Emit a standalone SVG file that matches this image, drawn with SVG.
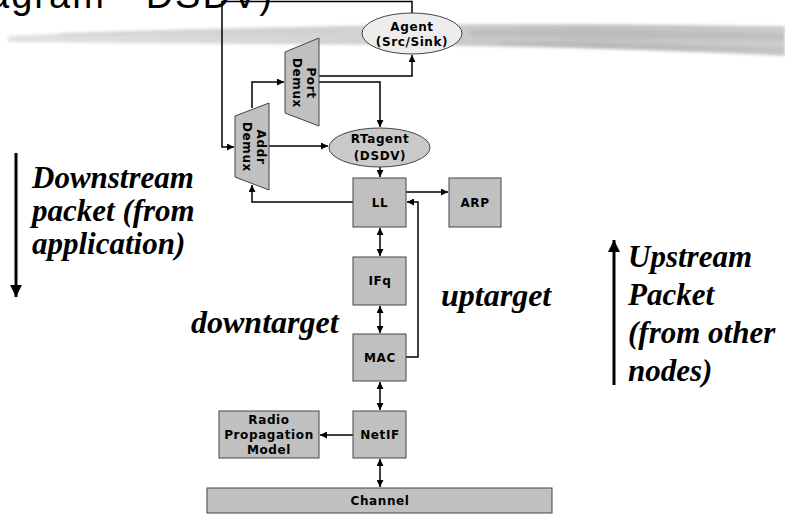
<svg xmlns="http://www.w3.org/2000/svg" width="785" height="515" viewBox="0 0 785 515">
  <defs>
    <style>
      .box { fill: #c0c0c0; stroke: #444; stroke-width: 1; }
      .ell { stroke: #444; stroke-width: 1; }
      .lbl { font-family: "DejaVu Sans", Verdana, sans-serif; font-weight: bold; font-size: 12px; letter-spacing: 0.6px; text-anchor: middle; fill: #000; }
      .conn { fill: none; stroke: #000; stroke-width: 1.5; }
      .note { font-family: "Liberation Serif", "Times New Roman", serif; font-style: italic; font-weight: bold; fill: #000; }
      .title { font-family: "Liberation Sans", Arial, sans-serif; font-size: 38px; fill: #000; }
    </style>
    <marker id="ah" viewBox="0 0 8 8" refX="8" refY="4" markerWidth="7" markerHeight="7" markerUnits="userSpaceOnUse" orient="auto-start-reverse">
      <path d="M0,0 L8,4 L0,8 Z" fill="#000"/>
    </marker>
    <marker id="bigah" viewBox="0 0 10 10" refX="10" refY="5" markerWidth="12" markerHeight="12" markerUnits="userSpaceOnUse" orient="auto">
      <path d="M0,0 L10,5 L0,10 Z" fill="#000"/>
    </marker>
    <linearGradient id="band" x1="0" y1="0" x2="1" y2="0">
      <stop offset="0" stop-color="#e2e2e2"/>
      <stop offset="0.45" stop-color="#d2d2d2"/>
      <stop offset="0.75" stop-color="#c0c0c0"/>
      <stop offset="1" stop-color="#cccccc"/>
    </linearGradient>
    <filter id="soft" x="-5%" y="-50%" width="110%" height="200%">
      <feGaussianBlur stdDeviation="1.6"/>
    </filter>
  </defs>

  <rect width="785" height="515" fill="#fff"/>

  <!-- heading fragment and brush-stroke rule -->
  <text class="title" x="-12" y="8" textLength="284" lengthAdjust="spacing">agram - DSDV)</text>
  <g id="brush" filter="url(#soft)">
    <path d="M8,36 C120,30 260,27 400,25 C540,23 690,25 785,26 L785,56 C660,50 520,46 400,45 C260,44 120,43 8,42 Z" fill="url(#band)"/>
    <path d="M470,30 C580,30 690,31 785,33 L785,40 C690,37 580,36 470,36 Z" fill="#b4b4b4" opacity="0.5"/>
    <path d="M500,42 C600,43 700,46 785,49 L785,52 C700,50 600,47 500,45 Z" fill="#acacac" opacity="0.45"/>
    <path d="M60,33 C160,31 260,30 340,30 L340,33 C260,33 160,34 60,36 Z" fill="#c8c8c8" opacity="0.5"/>
  </g>

  <!-- connectors -->
  <g id="connectors">
    <path class="conn" d="M412,13 V1.5 H222 V147 H234" marker-end="url(#ah)"/>
    <path class="conn" d="M252,108 V82 H284" marker-end="url(#ah)"/>
    <path class="conn" d="M319,76 H412 V55" marker-end="url(#ah)"/>
    <path class="conn" d="M319,82 H380 V127" marker-end="url(#ah)"/>
    <path class="conn" d="M269,146 H328" marker-end="url(#ah)"/>
    <path class="conn" d="M380,167 V177" marker-end="url(#ah)"/>
    <path class="conn" d="M406,192 H448" marker-end="url(#ah)"/>
    <path class="conn" d="M406,357 H418 V202 H407" marker-end="url(#ah)"/>
    <path class="conn" d="M353,202 H252 V185" marker-end="url(#ah)"/>
    <path class="conn" d="M380,228 V256" marker-start="url(#ah)" marker-end="url(#ah)"/>
    <path class="conn" d="M380,306 V333" marker-start="url(#ah)" marker-end="url(#ah)"/>
    <path class="conn" d="M380,382 V410" marker-start="url(#ah)" marker-end="url(#ah)"/>
    <path class="conn" d="M353,435 H320" marker-end="url(#ah)"/>
    <path class="conn" d="M380,459 V487" marker-start="url(#ah)" marker-end="url(#ah)"/>
  </g>

  <!-- protocol stack nodes -->
  <g id="agent">
    <ellipse class="ell" cx="412" cy="33.5" rx="50" ry="20.5" fill="#ededed"/>
    <text class="lbl" x="412" y="31">Agent</text>
    <text class="lbl" x="412" y="46">(Src/Sink)</text>
  </g>
  <g id="port-demux">
    <polygon class="box" points="285,52 319,38 319,126 285,113"/>
    <text class="lbl" transform="translate(307,83) rotate(90)" y="0">Port</text>
    <text class="lbl" transform="translate(293,83) rotate(90)" y="0">Demux</text>
  </g>
  <g id="addr-demux">
    <polygon class="box" points="235,116 269,103 269,190 235,177"/>
    <text class="lbl" transform="translate(257,147) rotate(90)" y="0">Addr</text>
    <text class="lbl" transform="translate(243,147) rotate(90)" y="0">Demux</text>
  </g>
  <g id="rtagent">
    <ellipse class="ell" cx="379.5" cy="147.5" rx="50.5" ry="19.5" fill="#cacaca"/>
    <text class="lbl" x="380" y="143">RTagent</text>
    <text class="lbl" x="380" y="160">(DSDV)</text>
  </g>
  <g id="ll">
    <rect class="box" x="353" y="178" width="53" height="49"/>
    <text class="lbl" x="380" y="207">LL</text>
  </g>
  <g id="arp">
    <rect class="box" x="449" y="178" width="52" height="49"/>
    <text class="lbl" x="475" y="207">ARP</text>
  </g>
  <g id="ifq">
    <rect class="box" x="353" y="257" width="53" height="48"/>
    <text class="lbl" x="380" y="285">IFq</text>
  </g>
  <g id="mac">
    <rect class="box" x="353" y="334" width="53" height="47"/>
    <text class="lbl" x="380" y="362">MAC</text>
  </g>
  <g id="netif">
    <rect class="box" x="353" y="411" width="53" height="47"/>
    <text class="lbl" x="380" y="439">NetIF</text>
  </g>
  <g id="radio-propagation-model">
    <rect class="box" x="219" y="411" width="100" height="47"/>
    <text class="lbl" x="269" y="424">Radio</text>
    <text class="lbl" x="269" y="439">Propagation</text>
    <text class="lbl" x="269" y="454">Model</text>
  </g>
  <g id="channel">
    <rect class="box" x="207" y="488" width="345" height="25"/>
    <text class="lbl" x="380" y="505">Channel</text>
  </g>

  <!-- flow direction notes -->
  <g id="downstream-note">
    <path d="M16,153 V297" stroke="#000" stroke-width="3" fill="none" marker-end="url(#bigah)"/>
    <text class="note" font-size="31" x="32" y="188">Downstream</text>
    <text class="note" font-size="31" x="32" y="221">packet (from</text>
    <text class="note" font-size="31" x="32" y="254">application)</text>
  </g>
  <g id="upstream-note">
    <path d="M614,385 V240" stroke="#000" stroke-width="3" fill="none" marker-end="url(#bigah)"/>
    <text class="note" font-size="31" x="628" y="267">Upstream</text>
    <text class="note" font-size="31" x="628" y="305">Packet</text>
    <text class="note" font-size="31" x="628" y="343">(from other</text>
    <text class="note" font-size="31" x="628" y="381">nodes)</text>
  </g>
  <text class="note" font-size="32" x="441" y="306">uptarget</text>
  <text class="note" font-size="32" x="191" y="333">downtarget</text>
</svg>
